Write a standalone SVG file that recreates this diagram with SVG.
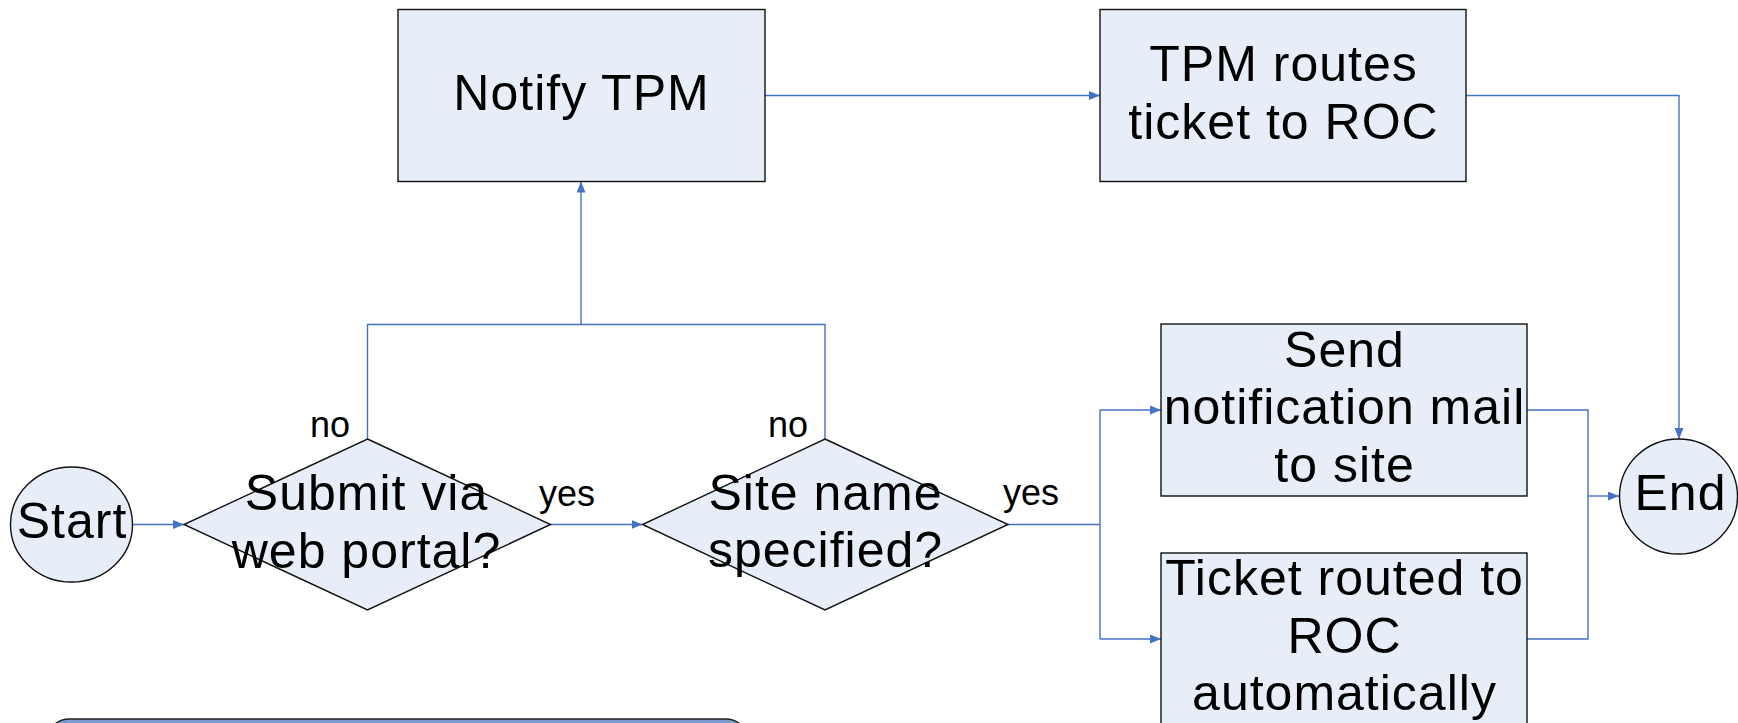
<svg xmlns="http://www.w3.org/2000/svg" width="1738" height="723" viewBox="0 0 1738 723">
  <defs>
    <marker id="arrow" markerUnits="userSpaceOnUse" markerWidth="12" markerHeight="10" refX="11" refY="4.5" orient="auto">
      <path d="M0,0 L11,4.5 L0,9 Z" fill="#4472C4"/>
    </marker>
    <style>
      .shape { fill: #E8EEF7; stroke: #111; stroke-width: 1.4; }
      .txt { font-family: "Liberation Sans", Arial, sans-serif; font-size: 50px; letter-spacing: 1px; fill: #000; text-anchor: middle; }
      .lbl { font-family: "Liberation Sans", Arial, sans-serif; font-size: 36px; fill: #000; }
      .conn { fill: none; stroke: #4472C4; stroke-width: 1.4; }
      .bar { fill: #7B9BD1; stroke: #222; stroke-width: 1.6; }
    </style>
  </defs>
  <rect width="1738" height="723" fill="#fff"/>

  <!-- connectors -->
  <g id="connectors">
    <path class="conn" d="M132.5 524.5 H184" marker-end="url(#arrow)"/>
    <path class="conn" d="M367.5 439 V324.5 H825 V439"/>
    <path class="conn" d="M581 324.5 V181.5" marker-end="url(#arrow)"/>
    <path class="conn" d="M550.5 524.5 H642.5" marker-end="url(#arrow)"/>
    <path class="conn" d="M1008 524.5 H1100"/>
    <path class="conn" d="M1100 410 V639"/>
    <path class="conn" d="M1100 410 H1161" marker-end="url(#arrow)"/>
    <path class="conn" d="M1100 639 H1161" marker-end="url(#arrow)"/>
    <path class="conn" d="M765 95.5 H1100" marker-end="url(#arrow)"/>
    <path class="conn" d="M1466 95.5 H1679 V439" marker-end="url(#arrow)"/>
    <path class="conn" d="M1527 410 H1588 V639 H1527"/>
    <path class="conn" d="M1588 496 H1619" marker-end="url(#arrow)"/>
  </g>

  <!-- edge labels -->
  <g id="labels">
    <text class="lbl" x="350" y="437" text-anchor="end">no</text>
    <text class="lbl" x="539" y="506">yes</text>
    <text class="lbl" x="808" y="437" text-anchor="end">no</text>
    <text class="lbl" x="1003" y="505">yes</text>
  </g>

  <g id="start">
    <ellipse class="shape" cx="71.5" cy="524.5" rx="61" ry="57.5"/>
    <text class="txt" x="72" y="538">Start</text>
  </g>

  <g id="submit-via-portal">
    <polygon class="shape" points="367.5,439 550.5,524.5 367.5,610 184,524.5"/>
    <text class="txt" x="366.5" y="510">Submit via</text>
    <text class="txt" x="366.5" y="567.5">web portal?</text>
  </g>

  <g id="site-name-specified">
    <polygon class="shape" points="825,439 1008,524.5 825,610 642.5,524.5"/>
    <text class="txt" x="825.5" y="509.5">Site name</text>
    <text class="txt" x="825.5" y="566.5">specified?</text>
  </g>

  <g id="notify-tpm">
    <rect class="shape" x="398" y="9.5" width="367" height="172"/>
    <text class="txt" x="581.5" y="110">Notify TPM</text>
  </g>

  <g id="tpm-routes">
    <rect class="shape" x="1100" y="9.5" width="366" height="172"/>
    <text class="txt" x="1283.5" y="81">TPM routes</text>
    <text class="txt" x="1283.5" y="138.5">ticket to ROC</text>
  </g>

  <g id="send-mail">
    <rect class="shape" x="1161" y="324" width="366" height="172"/>
    <text class="txt" x="1344.5" y="366.5">Send</text>
    <text class="txt" x="1344.5" y="424">notification mail</text>
    <text class="txt" x="1344.5" y="481.5">to site</text>
  </g>

  <g id="ticket-routed">
    <rect class="shape" x="1161" y="553" width="366" height="172"/>
    <text class="txt" x="1344.5" y="595">Ticket routed to</text>
    <text class="txt" x="1344.5" y="653">ROC</text>
    <text class="txt" x="1344.5" y="710">automatically</text>
  </g>

  <g id="end">
    <ellipse class="shape" cx="1678.5" cy="496.5" rx="59" ry="57.5"/>
    <text class="txt" x="1680.5" y="510">End</text>
  </g>

  <g id="legend-bar">
    <rect class="bar" x="47" y="719" width="701" height="60" rx="22" ry="22"/>
  </g>
</svg>
